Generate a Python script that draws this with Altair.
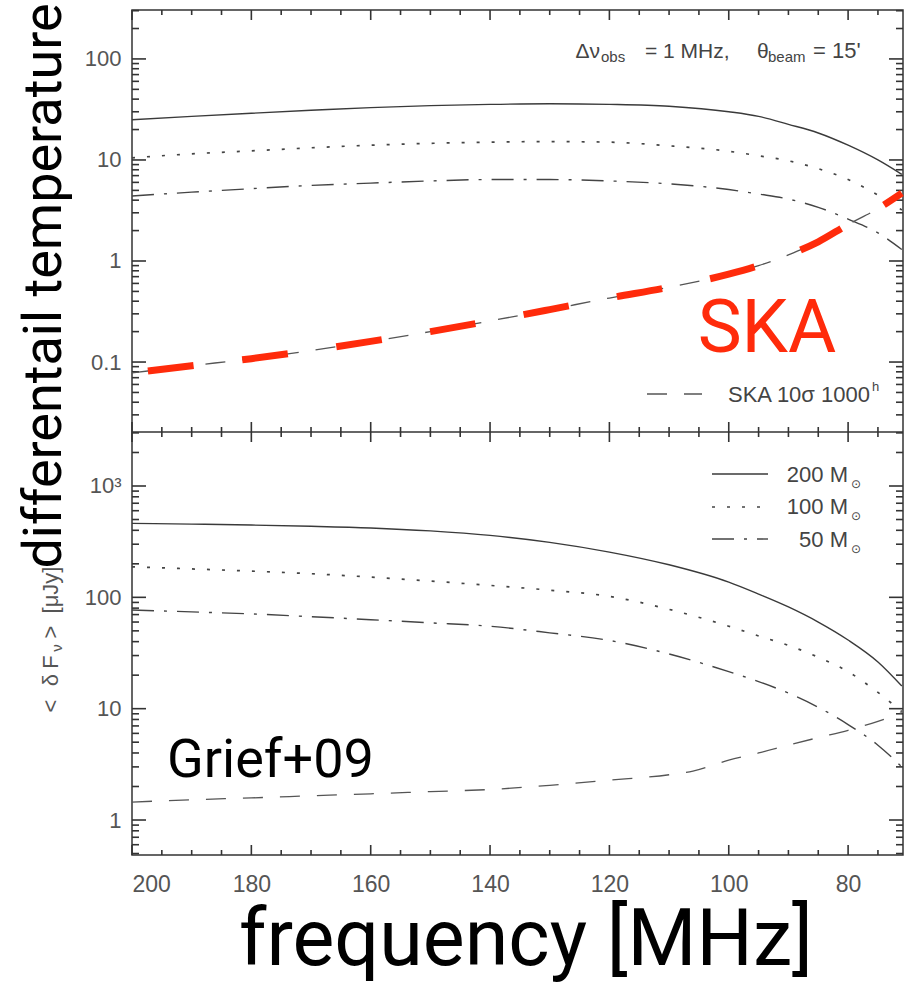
import altair as alt
import math
import pandas as pd

# ---------------- data ----------------
FREQ = [200, 190, 180, 170, 160, 150, 140, 130, 120, 110, 100, 95, 90, 85, 80, 75, 71]

# upper panel: differential brightness temperature
TOP_200 = [25, 27, 29, 31, 33, 34.5, 35.5, 36, 35.5, 34, 30, 27, 22.5, 18.5, 14, 10, 7.2]
TOP_100 = [10.5, 11.5, 12.3, 13.2, 14, 14.6, 15, 15.2, 15, 13.8, 12.2, 11, 9.8, 8.2, 6.4, 4.5, 3.2]
TOP_50 = [4.4, 4.8, 5.2, 5.6, 5.9, 6.2, 6.4, 6.4, 6.2, 5.8, 5.1, 4.6, 4.1, 3.4, 2.6, 1.9, 1.3]
TOP_SKA = [0.078, 0.092, 0.108, 0.13, 0.16, 0.2, 0.255, 0.33, 0.43, 0.55, 0.74, 0.9, 1.15, 1.55, 2.3, 3.3, 4.7]

# lower panel: <dF_nu> [muJy]
BOT_200 = [462, 455, 446, 435, 420, 395, 360, 312, 255, 196, 137, 107, 82, 60, 41.4, 26.3, 16]
BOT_100 = [188, 180, 172, 163, 152, 140, 128, 116, 102, 78, 55, 45, 37, 29, 21.5, 14, 9.4]
BOT_50 = [77, 74, 71, 67, 63, 59, 55, 48, 41, 31, 21.5, 17.5, 13.8, 10.3, 7.2, 4.7, 3.0]
BOT_SKA_FREQ = [200, 190, 180, 170, 160, 150, 140, 130, 120, 110, 106, 100, 95, 90, 85, 80, 75, 71]
BOT_SKA = [1.45, 1.52, 1.58, 1.65, 1.72, 1.8, 1.88, 2.05, 2.28, 2.55, 2.75, 3.45, 4.0, 4.7, 5.5, 6.4, 7.7, 9.2]

# axis ranges, ticks and labels
X_MIN, X_MAX = 70.8, 200
YT_MIN, YT_MAX = 0.0203, 305
YB_MIN, YB_MAX = 0.485, 3055
X_LABELS = [200, 180, 160, 140, 120, 100, 80]
X_MINOR = [v for v in range(75, 201, 5) if v % 20]
YT_LABELS = [0.1, 1, 10, 100]
YB_LABELS = [1, 10, 100, 1000]
YT_MINOR = [m * 10 ** e for e in (-2, -1, 0, 1, 2) for m in range(2, 10) if YT_MIN <= m * 10 ** e <= YT_MAX]
YB_MINOR = [m * 10 ** e for e in (-1, 0, 1, 2, 3) for m in range(2, 10) if YB_MIN <= m * 10 ** e <= YB_MAX]

# ---------------- layout constants ----------------
W, H = 771, 845
HT = 422  # top panel height

XS = alt.Scale(domain=[X_MIN, X_MAX], reverse=True, zero=False, nice=False)
YT = dict(type="log", domain=[YT_MIN, YT_MAX], range=[HT, 0], nice=False)
YB = dict(type="log", domain=[YB_MIN, YB_MAX], range=[H, HT], nice=False)

PX_PER_MHZ = W / (X_MAX - X_MIN)
PPD_T = HT / math.log10(YT_MAX / YT_MIN)
PPD_B = (H - HT) / math.log10(YB_MAX / YB_MIN)

INK = "#333333"
LINE = "#3a3a3a"
RED = "#ff2b0b"
GRAY = "#555555"
BIG = "Roboto"

X_LABEL_AXIS = alt.Axis(orient="bottom", values=X_LABELS, format="d", ticks=False, tickSize=0,
                        labelPadding=18, domain=False, grid=False, title=None,
                        labelFont="Liberation Sans", labelFontSize=23, labelColor=GRAY)
YT_LABEL_AXIS = alt.Axis(orient="left", values=YT_LABELS, format="~g", ticks=False, tickSize=0,
                         labelPadding=11, domain=False, grid=False, title=None,
                         labelFont="Liberation Sans", labelFontSize=22, labelColor=GRAY)
YB_LABEL_AXIS = alt.Axis(orient="left", values=YB_LABELS, ticks=False, tickSize=0,
                         labelExpr="datum.value == 1000 ? '10³' : format(datum.value, '~g')",
                         labelPadding=11, domain=False, grid=False, title=None,
                         labelFont="Liberation Sans", labelFontSize=22, labelColor=GRAY)


def line_layer(freqs, vals, yscale, xaxis=None, yaxis=None, **mark):
    df = pd.DataFrame({"f": freqs, "v": vals})
    return alt.Chart(df).mark_line(interpolate="monotone", **mark).encode(
        x=alt.X("f:Q", scale=XS, axis=xaxis),
        y=alt.Y("v:Q", scale=alt.Scale(**yscale), axis=yaxis),
        order=alt.Order("f:Q", sort="descending"),
    )


def tick_layer(rows, yscale):
    """rows: (id, f0, v0, f1, v1) short segments drawn inward from a frame edge."""
    recs = []
    for i, f0, v0, f1, v1 in rows:
        recs.append({"tid": i, "f": f0, "v": v0, "k": 0})
        recs.append({"tid": i, "f": f1, "v": v1, "k": 1})
    return alt.Chart(pd.DataFrame(recs)).mark_line(color=INK, strokeWidth=1.6).encode(
        x=alt.X("f:Q", scale=XS, axis=None),
        y=alt.Y("v:Q", scale=alt.Scale(**yscale), axis=None),
        detail="tid:N",
        order="k:Q",
    )


MAJ_X, MIN_X = 10, 5
MAJ_Y, MIN_Y = 14, 7


def xtick_rows(edge_v, ppd, direction):
    out = []
    for vals, ln in ((X_LABELS, MAJ_X), (X_MINOR, MIN_X)):
        for f in vals:
            out.append((f"x{f}_{ln}_{edge_v}", f, edge_v, f, edge_v * 10 ** (direction * ln / ppd)))
    return out


def ytick_rows(values_major, values_minor):
    out = []
    for vals, ln in ((values_major, MAJ_Y), (values_minor, MIN_Y)):
        for v in vals:
            d = ln / PX_PER_MHZ
            out.append((f"yl{v}", X_MAX, v, X_MAX - d, v))
            out.append((f"yr{v}", X_MIN, v, X_MIN + d, v))
    return out


tick_layers = [
    tick_layer(xtick_rows(YT_MAX, PPD_T, -1) + xtick_rows(YT_MIN, PPD_T, +1)
               + ytick_rows(YT_LABELS, YT_MINOR), YT),
    tick_layer(xtick_rows(YB_MAX, PPD_B, -1) + xtick_rows(YB_MIN, PPD_B, +1)
               + ytick_rows(YB_LABELS, YB_MINOR), YB),
]

ONE = alt.Data(values=[{"a": 1}])


def label(text, x, y, size, color="#444444", font="Liberation Sans", align="left",
          baseline="alphabetic", angle=0):
    kw = dict(text=text, fontSize=size, color=color, font=font, align=align, baseline=baseline)
    if angle:
        kw["angle"] = angle
    return alt.Chart(ONE).mark_text(**kw).encode(x=alt.value(x), y=alt.value(y))


def sample(x1, x2, y, **mark):
    return alt.Chart(ONE).mark_rule(**mark).encode(x=alt.value(x1), x2=alt.value(x2), y=alt.value(y))


S_SOLID = dict(color=LINE, strokeWidth=1.4)
S_DOT = dict(color="#444444", strokeWidth=1.7, strokeDash=[3, 12])
S_DASHDOT = dict(color="#444444", strokeWidth=1.4, strokeDash=[22, 10, 3, 10])
S_DASH = dict(color=GRAY, strokeWidth=1.3, strokeDash=[20, 17])

layers = tick_layers + [
    sample(0, W, HT, color=INK, strokeWidth=1.5),
    # ---- top panel ----
    line_layer(FREQ, TOP_200, YT, yaxis=YT_LABEL_AXIS, **S_SOLID),
    line_layer(FREQ, TOP_100, YT, **S_DOT),
    line_layer(FREQ, TOP_50, YT, **S_DASHDOT),
    line_layer(FREQ, TOP_SKA, YT, **S_DASH),
    line_layer(FREQ, TOP_SKA, YT, color=RED, strokeWidth=7, strokeDash=[46, 49],
               strokeDashOffset=79, strokeCap="butt"),
    # ---- bottom panel ----
    line_layer(FREQ, BOT_200, YB, xaxis=X_LABEL_AXIS, yaxis=YB_LABEL_AXIS, **S_SOLID),
    line_layer(FREQ, BOT_100, YB, **S_DOT),
    line_layer(FREQ, BOT_50, YB, **S_DASHDOT),
    line_layer(BOT_SKA_FREQ, BOT_SKA, YB, **S_DASH),
    # ---- top annotations ----
    label("Δν", 468, 48, 21, align="right"),
    label("obs", 469, 52, 15),
    label("= 1 MHz,", 513, 48, 21),
    label("θ", 625, 48, 21),
    label("beam", 636, 52, 15),
    label("= 15'", 681, 48, 22),
    sample(515, 570, 384, **S_DASH),
    label("SKA 10σ 1000", 738, 392, 22, align="right"),
    label("h", 740, 381, 13),
    # ---- bottom legend ----
    sample(580, 636, 464, **S_SOLID),
    sample(580, 636, 497, **S_DOT),
    sample(580, 636, 529, **S_DASHDOT),
    label("200 M", 716, 472, 22, align="right"),
    label("100 M", 716, 504, 22, align="right"),
    label("50 M", 716, 537, 22, align="right"),
    label("⊙", 724, 474, 12, font="DejaVu Sans", align="center", baseline="middle"),
    label("⊙", 724, 506, 12, font="DejaVu Sans", align="center", baseline="middle"),
    label("⊙", 724, 539, 12, font="DejaVu Sans", align="center", baseline="middle"),
    # ---- lower-panel y label (small, gray, rotated) ----
    label("<", -74, 696, 22, color=GRAY, align="center", angle=270),
    label("δ", -74, 670, 22, color=GRAY, align="center", angle=270),
    label("F", -74, 652, 22, color=GRAY, align="center", angle=270),
    label("ν", -70, 638, 15, color=GRAY, align="center", angle=270),
    label(">", -74, 622, 22, color=GRAY, align="center", angle=270),
    label("[μJy]", -74, 580, 22, color=GRAY, align="center", angle=270),
    # ---- large overlay texts ----
    label("differentail temperature", -71, 276, 54, color="black", font=BIG,
          align="center", angle=270),
    label("SKA", 635, 342, 74, color=RED, font=BIG, align="center"),
    label("Grief+09", 35, 767, 54, color="black", font=BIG),
    label("frequency [MHz]", 394, 955, 79, color="black", font=BIG, align="center"),
]

chart = (
    alt.layer(*layers)
    .resolve_scale(y="independent")
    .resolve_axis(x="independent", y="independent")
    .properties(width=W, height=H,
                padding={"left": 132, "top": 10, "right": 2, "bottom": 129},
                autosize=alt.AutoSizeParams(type="none"),
                background="white")
    .configure_view(stroke=INK, strokeWidth=1.5)
)

chart.save("out.html", embed_options={"renderer": "svg", "actions": False})
